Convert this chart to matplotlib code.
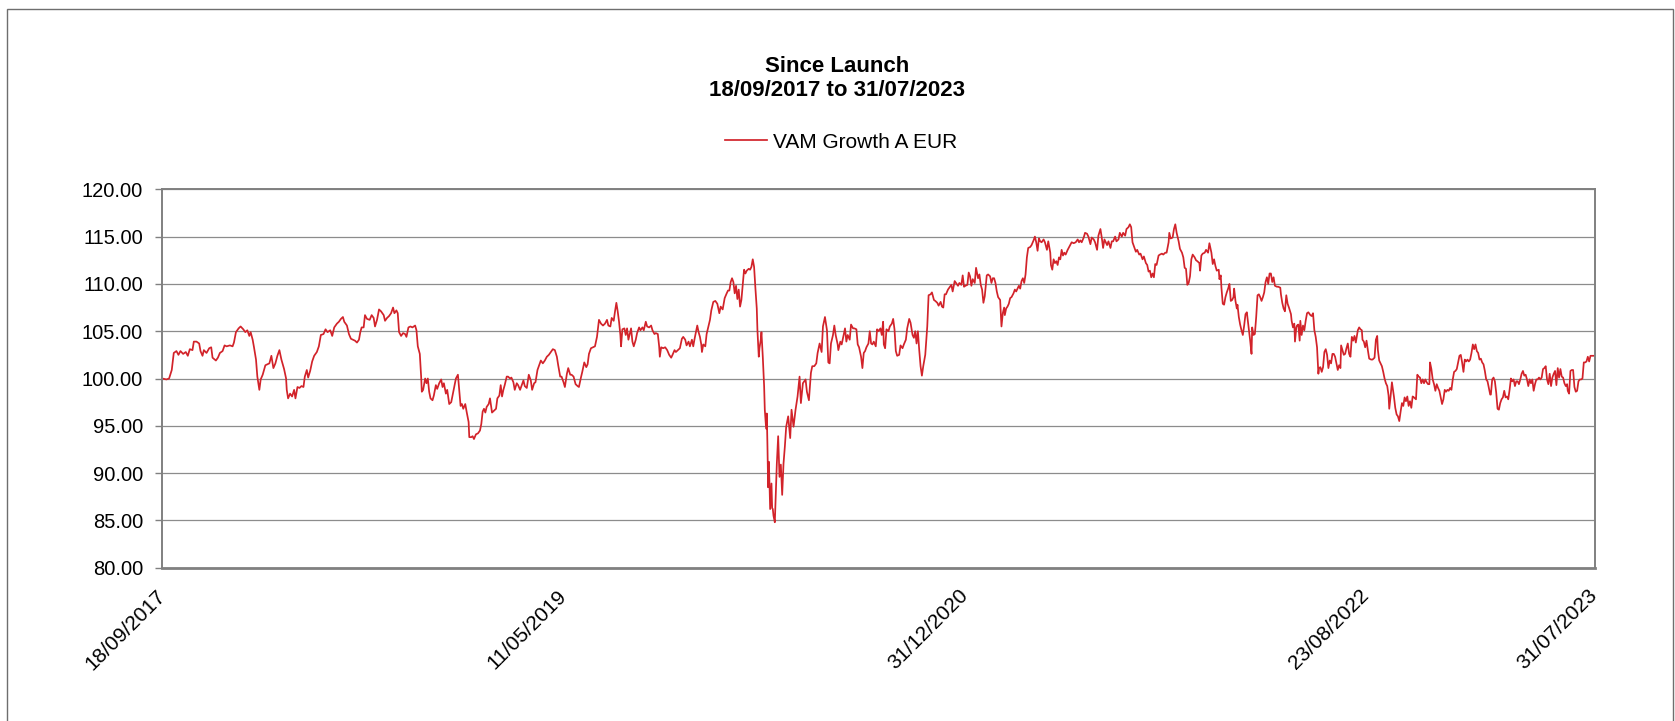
import matplotlib
matplotlib.use("Agg")
import matplotlib.pyplot as plt
from matplotlib.patches import Rectangle
import numpy as np
import pandas as pd

plt.rcParams['font.family'] = ['Liberation Sans', 'DejaVu Sans']

# ---------------- data ----------------
title_line1 = "Since Launch"
title_line2 = "18/09/2017 to 31/07/2023"
series_name = "VAM Growth A EUR"
launch_date = "2017-09-18"
end_date = "2023-07-31"
tick_dates = ["2017-09-18", "2019-05-11", "2020-12-31", "2022-08-23", "2023-07-31"]
y_ticks = [80, 85, 90, 95, 100, 105, 110, 115, 120]

# days since launch
days = [
    0, 6, 10, 14, 17, 21, 24, 27, 31, 35, 38, 41, 45, 47, 51, 55, 57, 60, 62, 66, 70, 73, 75, 80, 83, 86, 90, 93, 96,
    101, 105, 107, 110, 114, 117, 121, 124, 127, 130, 132, 135, 137, 140, 142, 144, 145, 147, 150, 154, 157, 160, 163,
    166, 169, 172, 175, 178, 182, 185, 186, 188, 191, 194, 197, 199, 202, 205, 208, 211, 213, 216, 218, 221, 224, 227,
    231, 234, 237, 241, 244, 247, 251, 254, 257, 261, 264, 267, 270, 272, 276, 279, 282, 285, 288, 291, 294, 296, 298,
    301, 303, 306, 310,
    313, 316, 318, 321, 324, 327, 331, 333, 336, 339, 342, 345, 347, 350, 352, 354, 357, 360, 363, 365, 368, 371, 374,
    378, 380, 382, 385, 387, 388, 390, 393, 395, 397, 399, 401, 404, 406, 409, 411, 414, 417, 419, 421, 424, 426, 429,
    432, 434, 437, 439, 442, 444, 446, 448, 450, 453, 455, 458, 459, 462, 464, 466, 469, 472, 475, 477, 479, 481, 483,
    485, 488, 490, 493, 496, 499, 501, 504, 506, 508, 510, 512, 515, 517, 520, 522, 525, 527, 530, 532, 535, 537, 540,
    542, 545, 548, 551, 553, 556, 558, 561, 563, 566, 569, 572, 575, 578, 581, 584, 587, 590, 592, 595, 597, 600, 602,
    605, 607, 610, 612, 615,
    618, 621, 623, 626, 628, 631, 634, 636, 638, 641, 644, 647, 650, 653, 656, 659, 662, 665, 667, 670, 672, 675, 677,
    679, 681, 683, 685, 686, 688, 691, 693, 695, 697, 699, 701, 703, 705, 708, 710, 713, 715, 718, 720, 723, 725, 728,
    731, 733, 736, 738, 741, 743, 744, 746, 749, 752, 755, 758, 761, 763, 766, 768, 771, 774, 777, 779, 782, 784, 787,
    789, 792, 794, 796, 798, 800, 802, 804, 806, 807, 809, 812, 814, 817, 819, 821, 824, 827, 830, 833, 835, 838, 841,
    844, 846, 848, 850, 852, 854, 856, 858, 860, 862, 864, 866, 868, 870, 872, 874, 877, 879, 881, 883, 885, 887, 889,
    890, 892, 893, 895, 896, 898, 900, 901, 903, 904, 905, 906, 907, 908, 909, 911, 912, 913, 914, 916,
    919, 921, 923, 925, 927, 929, 931, 933, 936, 939, 941, 944, 947, 950, 953, 955, 958, 962, 964, 967, 970, 972, 975,
    978, 980, 983, 986, 988, 991, 994, 996,
    998, 1000, 1003, 1005, 1007, 1010, 1011, 1014, 1016, 1019, 1021, 1023, 1025, 1028, 1030, 1033, 1035, 1038, 1040,
    1042, 1045, 1047, 1049, 1051, 1053, 1056, 1058, 1060, 1062, 1064, 1067, 1069, 1071, 1074, 1076, 1078, 1079, 1081,
    1083, 1086, 1088, 1091, 1093, 1095, 1097, 1099, 1102, 1104, 1107, 1109, 1112, 1114, 1117, 1119, 1122, 1124, 1126,
    1128, 1130, 1132, 1134, 1136, 1138, 1141, 1143, 1144, 1146, 1149, 1151, 1154, 1156, 1159, 1161, 1164, 1166, 1168,
    1170, 1172, 1175, 1177, 1180, 1182, 1185, 1187, 1190, 1192, 1195, 1197, 1199, 1201, 1204, 1206, 1208, 1210, 1212,
    1215, 1217, 1220, 1222, 1224, 1226, 1228, 1230,
    1233, 1235, 1238, 1240, 1242, 1244, 1246, 1248, 1250, 1253, 1254, 1255, 1257, 1259, 1260, 1262, 1264, 1266, 1268,
    1270, 1273, 1275, 1277, 1279, 1281, 1283, 1285, 1287, 1289, 1291, 1293, 1295, 1298, 1300, 1303, 1305, 1307, 1309,
    1311, 1313, 1315, 1318, 1320, 1323, 1325, 1328, 1329, 1331, 1333, 1335, 1337, 1339, 1341, 1343, 1345, 1347, 1349,
    1351, 1354, 1357, 1360, 1363, 1366, 1369, 1371, 1373, 1375, 1378, 1380, 1383, 1385, 1388, 1390, 1393, 1395, 1398,
    1400, 1403, 1405, 1407, 1409, 1411, 1413, 1415, 1418, 1420, 1422, 1425, 1427, 1430, 1432, 1435, 1437, 1440, 1442,
    1445, 1447, 1449, 1451, 1453, 1456, 1458, 1461, 1463, 1466, 1468, 1471, 1473, 1475, 1477, 1479, 1481, 1483, 1485,
    1487, 1490, 1492, 1495, 1497, 1500, 1502, 1505, 1506, 1508, 1511, 1513, 1515, 1517, 1520, 1522, 1525, 1527, 1529,
    1531, 1533, 1535, 1537,
    1539, 1541, 1544, 1546, 1548, 1551, 1552, 1554, 1556, 1559, 1561, 1564, 1566, 1569, 1571, 1573, 1575, 1577, 1580,
    1581, 1583, 1584, 1586, 1588, 1590, 1592, 1594, 1596, 1598, 1600, 1602, 1603, 1605, 1607, 1608, 1610, 1612, 1614,
    1616, 1618, 1620, 1622, 1624, 1626, 1627, 1629, 1630, 1632, 1634, 1636, 1638, 1640, 1642, 1644, 1646, 1648, 1650,
    1652, 1654, 1656, 1658, 1660, 1662, 1664, 1667, 1669, 1672, 1673, 1675, 1677, 1679, 1681, 1683, 1685, 1688, 1689,
    1691, 1693, 1694, 1696, 1697, 1699, 1701, 1702, 1704, 1706, 1708, 1710, 1712, 1714, 1717, 1719, 1721, 1723, 1725,
    1727, 1729, 1730, 1732, 1734, 1736, 1738, 1740, 1742, 1744, 1746, 1748, 1750, 1752, 1754, 1756, 1758, 1760, 1762,
    1763, 1765, 1767, 1769, 1771, 1773, 1775, 1777, 1779, 1781, 1783, 1785, 1788, 1790, 1792, 1794, 1795, 1797, 1799,
    1801, 1803, 1805, 1808, 1810, 1813, 1815, 1817, 1818, 1820, 1822, 1824, 1826, 1828, 1830, 1832, 1834, 1835, 1837,
    1839,
    1842, 1844, 1846, 1848, 1850, 1852, 1854, 1856, 1858, 1860, 1862, 1864, 1866, 1868, 1870, 1872, 1875, 1877, 1879,
    1881, 1883, 1885, 1887, 1889, 1891, 1893, 1895, 1896, 1898, 1900, 1902, 1904, 1906, 1908, 1910, 1912, 1914, 1916,
    1918, 1920, 1922, 1924, 1926, 1928, 1930, 1932, 1934, 1936, 1938, 1940, 1942, 1944, 1946, 1948, 1950, 1952, 1954,
    1956, 1958, 1960, 1962, 1964, 1966, 1968, 1970, 1972, 1974, 1976, 1978, 1980, 1982, 1984, 1986, 1987, 1989, 1991,
    1993, 1995, 1997, 1999, 2001, 2003, 2005, 2007, 2009, 2011, 2013, 2015, 2017, 2019, 2021, 2023, 2025, 2027, 2029,
    2031, 2033, 2035, 2037, 2039, 2041, 2043, 2045, 2047, 2049, 2051, 2053, 2055, 2057, 2059, 2061, 2063, 2065, 2067,
    2069, 2071, 2073, 2075, 2077, 2079, 2081, 2083, 2085, 2087, 2089, 2091, 2093, 2095, 2097, 2099, 2101, 2102, 2104,
    2106, 2108, 2110, 2112, 2114, 2116, 2118, 2120, 2122, 2124, 2126, 2128, 2130, 2132, 2134, 2136, 2138, 2142,
]

nav = [
    100.0, 99.9, 100.0, 100.9, 102.7, 102.9, 102.5, 102.9, 102.6, 102.8, 102.4, 103.1, 103.0, 103.9, 103.9, 103.7, 102.9,
    102.4, 103.0, 102.7, 103.2, 103.3, 102.2, 101.9, 102.2, 102.7, 102.9, 103.5, 103.4, 103.5, 103.4, 103.8, 104.9,
    105.3, 105.5, 105.2, 104.9, 105.1, 104.5, 104.9, 104.1, 103.3, 102.0, 100.2, 99.3, 98.8, 99.9, 100.4, 101.4, 101.5,
    101.6, 102.4, 101.1, 101.6, 102.4, 103.0, 102.0, 101.0, 100.0, 98.8, 97.9, 98.4, 98.1, 98.8, 97.9, 99.1, 99.0, 99.2,
    99.1, 100.2, 100.9, 100.1, 100.8, 101.8, 102.4, 102.8, 103.4, 104.6, 104.7, 105.2, 104.9, 105.1, 104.5, 105.4,
    105.8, 106.0, 106.3, 106.5, 106.0, 105.6, 104.7, 104.2, 104.1, 104.0, 103.8, 104.1, 104.9, 105.4, 105.4, 106.7,
    106.3, 106.2,
    106.7, 106.4, 105.5, 106.2, 107.3, 107.1, 106.7, 106.1, 106.4, 106.6, 106.9, 107.5, 106.9, 107.2, 106.9, 104.9,
    104.5, 104.8, 104.7, 104.4, 105.4, 105.5, 105.4, 105.6, 105.1, 103.4, 102.6, 100.2, 98.6, 98.8, 100.0, 99.5, 100.0,
    98.6, 97.9, 97.7, 98.2, 99.3, 98.9, 99.5, 99.9, 99.1, 99.5, 98.4, 98.8, 97.3, 97.5, 98.2, 99.3, 100.0, 100.4, 98.8,
    97.1, 97.3, 96.8, 97.3, 96.5, 95.4, 93.8, 93.8, 93.9, 93.6, 94.1, 94.2, 94.5, 95.2, 96.5, 96.8, 96.4, 97.0, 97.3,
    97.9, 96.4, 96.6, 96.8, 97.9, 98.2, 99.3, 98.1, 98.8, 99.3, 100.2, 100.2, 100.0, 100.1, 99.6, 98.8, 99.5, 99.3,
    98.8, 99.2, 99.8, 99.2, 99.0, 100.4, 99.8, 98.8, 99.5, 99.6, 100.9, 101.3, 101.9, 101.6, 101.9, 102.3, 102.5, 102.8,
    103.1, 103.0, 102.3, 101.4, 100.2, 100.2, 99.6, 99.1, 100.5, 101.1, 100.4, 100.4, 100.2,
    99.4, 99.2, 99.1, 100.1, 100.7, 101.7, 101.2, 101.5, 102.6, 103.2, 103.3, 103.4, 104.4, 106.2, 105.8, 105.6, 105.8,
    106.2, 105.6, 105.5, 106.4, 106.1, 107.1, 108.0, 107.1, 106.0, 104.6, 103.4, 105.2, 105.3, 104.6, 105.3, 104.1,
    104.7, 105.3, 103.9, 103.4, 104.1, 104.8, 105.4, 105.1, 105.4, 105.1, 106.0, 105.5, 105.4, 105.6, 105.1, 104.7,
    104.8, 104.7, 103.4, 102.3, 103.3, 103.2, 103.3, 103.0, 102.5, 102.2, 102.5, 103.0, 102.8, 103.0, 103.2, 104.2,
    104.4, 104.1, 103.5, 103.9, 103.4, 104.1, 103.4, 104.2, 104.9, 105.6, 104.9, 104.4, 103.6, 102.8, 103.6, 103.4,
    104.7, 105.6, 106.2, 107.2, 108.1, 108.2, 107.9, 106.9, 107.6, 107.3, 108.5, 109.0, 109.3, 109.3, 110.2, 110.6,
    110.2, 109.0, 109.8, 108.4, 109.4, 107.6, 108.3, 109.9, 111.5, 111.1, 111.4, 111.6, 111.5, 111.8, 112.6, 111.8,
    109.5, 107.4, 105.1, 102.3, 103.2, 104.1, 104.9, 102.3, 99.2, 96.7, 94.7, 96.3, 92.8, 88.5, 91.2, 89.0, 86.2, 88.9,
    86.3, 86.2, 85.5, 84.8,
    91.0, 93.9, 89.6, 90.9, 87.7, 91.0, 92.8, 94.9, 96.0, 93.7, 96.7, 94.9, 96.7, 98.1, 100.2, 97.4, 99.5, 99.9, 98.6,
    97.7, 100.6, 101.3, 101.3, 101.6, 102.7, 103.7, 102.8, 105.5, 106.5, 105.1, 101.7,
    101.6, 103.7, 104.6, 105.6, 104.6, 103.6, 103.0, 103.9, 103.6, 104.6, 105.3, 103.9, 104.6, 104.1, 105.7, 105.3,
    105.3, 105.2, 103.6, 103.3, 102.3, 101.1, 102.7, 102.9, 103.3, 103.7, 105.0, 103.7, 103.6, 103.9, 103.4, 105.2,
    105.0, 105.3, 104.6, 106.0, 103.6, 103.2, 105.2, 105.0, 105.5, 105.8, 106.3, 105.2, 102.9, 102.4, 102.5, 103.5,
    103.2, 103.6, 104.1, 105.3, 106.3, 105.9, 104.6, 104.3, 105.0, 103.7, 105.0, 103.0, 101.3, 100.3, 101.3, 102.5,
    104.6, 105.5, 108.8, 108.9, 109.1, 108.3, 108.2, 108.0, 107.7, 108.1, 107.6, 107.5, 108.9, 108.9, 109.4, 109.6,
    109.9, 109.2, 110.3, 110.1, 109.8, 110.1, 109.9, 110.9, 109.7, 109.8, 109.9, 111.2, 110.8, 109.8, 110.5, 110.1,
    111.7, 110.6, 111.0, 109.9, 109.4, 108.0, 108.7,
    110.9, 111.0, 110.8, 110.1, 110.6, 110.6, 110.1, 109.2, 108.6, 108.3, 106.9, 105.5, 106.9, 107.5, 106.7, 107.4,
    107.6, 107.9, 108.5, 108.6, 109.0, 109.4, 109.2, 109.5, 109.8, 109.5, 110.3, 110.6, 110.1, 111.0, 112.8, 113.8,
    113.9, 114.1, 114.6, 115.0, 114.4, 113.5, 114.8, 114.5, 114.4, 114.7, 114.4, 113.6, 114.5, 113.3, 112.0, 111.5,
    112.6, 112.2, 112.4, 112.0, 112.8, 112.6, 113.6, 113.0, 113.3, 113.1, 113.6, 114.0, 114.4, 114.3, 114.4, 114.7,
    114.4, 114.6, 114.4, 114.9, 115.4, 115.3, 115.0, 114.2, 114.9, 114.7, 114.4, 113.6, 115.1, 115.8, 114.9, 113.8,
    114.7, 114.4, 114.1, 114.5, 113.8, 114.5, 114.5, 115.0, 114.5, 114.7, 115.4, 115.0, 115.4, 115.1, 115.8, 116.0,
    116.3, 116.0, 114.4, 114.0, 113.4, 113.6, 113.1, 113.2, 112.6, 112.9, 112.2, 112.0, 111.3, 111.4, 110.7, 111.1,
    110.7, 112.1, 112.0, 113.0, 113.1, 113.2, 113.1, 113.3, 113.3, 114.4, 115.4, 114.8, 114.9, 115.8, 116.3, 115.4,
    114.5, 113.7, 113.3, 112.8, 111.7, 111.6, 109.9, 110.1, 110.8,
    112.6, 113.1, 112.8, 112.5, 112.4, 112.2, 111.4, 113.0, 113.2, 113.3, 113.6, 113.3, 114.3, 113.3, 112.1, 112.6,
    111.9, 111.4, 111.5, 110.5, 110.9, 109.6, 107.9, 107.8, 108.6, 109.1, 109.5, 110.0, 108.2, 108.3, 108.6, 109.5,
    108.2, 107.4, 107.8, 106.5, 105.7, 105.1, 104.6, 105.6, 106.8, 107.0, 105.8, 104.7, 104.0, 102.6, 105.4, 104.6,
    104.7, 106.5, 108.8, 108.9, 108.6, 108.2, 108.6, 109.1, 110.2, 110.7, 110.0, 111.1, 111.1, 110.2, 110.7, 109.8,
    109.7, 109.7, 109.6, 108.9, 108.0, 107.4, 107.1, 108.8, 107.9, 107.5, 106.8, 106.1, 105.4, 105.8, 103.9, 105.4,
    105.6, 105.7, 104.0, 106.1, 104.6, 105.6, 105.1, 106.1, 106.9, 107.0, 106.7, 106.6, 106.9, 105.1, 104.4, 103.3,
    100.5, 101.1, 101.2, 100.7, 101.2, 102.8, 103.1, 102.5, 101.1, 101.9, 101.6, 102.6, 102.6, 102.3, 101.6, 100.9,
    101.4, 101.1, 103.5, 103.0, 102.5, 102.6, 103.2, 103.7, 102.6, 102.3, 104.4, 104.0, 104.5, 103.8, 105.1, 105.4,
    105.2, 105.1, 104.1, 103.9, 103.3, 104.0, 103.0, 102.1, 102.0, 102.0, 102.2, 104.1, 104.5, 103.0, 101.9, 101.6,
    101.3, 100.7, 100.0, 99.5, 99.2, 98.2, 96.8, 98.1, 99.6,
    98.1, 96.9, 96.2, 96.0, 95.5, 96.5, 97.4, 97.1, 98.0, 97.6, 98.1, 97.1, 97.6, 96.9, 98.1, 98.0, 97.8, 100.4, 100.2,
    100.1, 99.5, 99.9, 99.5, 99.9, 99.6, 99.4, 99.4, 101.7, 101.0, 99.9, 99.4, 98.7, 99.4, 99.0, 98.7, 98.0, 97.3, 97.8,
    98.8, 98.6, 98.8, 98.7, 99.0, 98.8, 99.9, 100.7, 100.8, 101.0, 101.7, 102.4, 102.5, 101.7, 100.7, 102.0, 101.8,
    102.0, 101.8, 102.0, 102.7, 103.6, 103.1, 103.6, 102.9, 102.7, 102.0, 102.1, 101.7, 101.5, 100.8, 99.9, 99.7, 99.0,
    98.3, 98.3, 99.9, 100.1, 99.7, 98.5, 96.8, 96.7, 97.4, 97.8, 98.0, 98.7, 98.0, 98.1, 97.8, 98.8, 100.0, 99.7, 99.9,
    99.2, 99.7, 99.7, 99.4, 99.9, 100.5, 100.8, 100.3, 100.4, 99.9, 99.2, 99.9, 99.5, 99.9, 98.7, 99.4, 99.9, 99.9,
    100.1, 99.9, 100.1, 101.0, 101.1, 101.3, 99.9, 99.4, 100.5, 99.2, 100.1, 100.5, 100.8, 99.3, 101.1, 100.1, 101.0,
    100.2, 100.1, 99.5, 99.2, 99.4, 98.7, 98.4, 100.8, 100.9, 100.9, 99.1, 98.6, 98.7, 99.7, 99.9, 99.9, 100.0, 101.7,
    101.7, 101.8, 102.3, 101.8, 102.4, 102.4, 102.4,
]

# ---------------- figure ----------------
W, H = 1675, 721
fig = plt.figure(figsize=(W / 100, H / 100), dpi=100)
fig.patch.set_facecolor("white")

# outer chart border
fig.patches.append(Rectangle((7 / W, -0.05), (1673 - 7) / W, 1.05 - 9 / H,
                             transform=fig.transFigure, fill=False,
                             edgecolor="#6e6e6e", linewidth=1.0))

ax_left, ax_right = 162.4 / W, 1594.5 / W
ax_top, ax_bottom = 1 - 189.3 / H, 1 - 567.7 / H
ax = fig.add_axes([ax_left, ax_bottom, ax_right - ax_left, ax_top - ax_bottom])

start = pd.Timestamp(launch_date)
dates = start + pd.to_timedelta(np.array(days), unit="D")
line, = ax.plot(dates, nav, color="#D2232A", linewidth=1.25, label=series_name)

ax.set_xlim(pd.Timestamp(launch_date), pd.Timestamp(end_date))
ax.set_ylim(y_ticks[0], y_ticks[-1])
ax.set_yticks(y_ticks)
ax.set_yticklabels([f"{v:.2f}" for v in y_ticks])
ax.yaxis.grid(True, color="#8c8c8c", linewidth=0.9)
ax.set_axisbelow(True)

tick_ts = [pd.Timestamp(d) for d in tick_dates]
ax.set_xticks(tick_ts)
ax.set_xticklabels([t.strftime("%d/%m/%Y") for t in tick_ts], rotation=45,
                   ha="right", va="center", rotation_mode="anchor")
ax.tick_params(axis="x", length=0, pad=18, labelsize=15)
ax.tick_params(axis="y", length=5, width=1.0, color="#808080", pad=9, labelsize=14.5,
               direction="out")

for s in ax.spines.values():
    s.set_color("#808080")
    s.set_linewidth(1.4)
ax.spines["bottom"].set_linewidth(2.0)

# title
fig.text(837 / W, 1 - 67 / H, title_line1, ha="center", va="center",
         fontsize=16, fontweight="bold")
fig.text(837 / W, 1 - 90 / H, title_line2, ha="center", va="center",
         fontsize=16, fontweight="bold")

# legend
fig.legend(handles=[line], labels=[series_name], loc="center",
           bbox_to_anchor=(841 / W, 1 - 142 / H), frameon=False,
           fontsize=15, handlelength=2.0, handletextpad=0.3, borderpad=0)

fig.savefig("out.png", dpi=100, facecolor="white")
